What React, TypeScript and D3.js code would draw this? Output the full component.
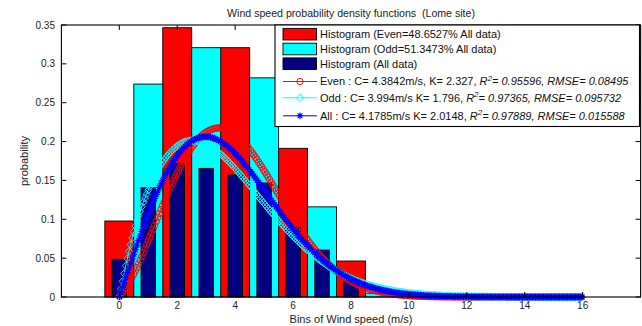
import { useEffect, useRef } from "react";
import * as d3 from "d3";

// Wind speeds (m/s) where the fitted Weibull curves were read
const speeds = [0, 0.5, 1, 1.5, 2, 2.5, 3, 3.5, 4, 4.5, 5, 5.5, 6, 6.5, 7, 7.5, 8, 8.5, 9, 9.5, 10, 10.5, 11, 11.5, 12, 12.5, 13, 13.5, 14, 14.5, 15, 15.5, 16];

const evenPdf = [0, 0.0295, 0.0723, 0.1178, 0.1595, 0.1921, 0.2122, 0.2178, 0.2096, 0.1899, 0.1626, 0.1317, 0.1011, 0.0735, 0.0507, 0.0331, 0.0205, 0.012, 0.0067, 0.0035, 0.0017, 0.0008, 0.0003, 0.0001, 0, 0, 0, 0, 0, 0, 0, 0, 0];
const oddPdf = [0, 0.084, 0.1375, 0.1736, 0.1943, 0.2013, 0.1969, 0.1839, 0.1652, 0.1433, 0.1203, 0.0982, 0.0779, 0.0602, 0.0454, 0.0334, 0.024, 0.0169, 0.0116, 0.0078, 0.0052, 0.0034, 0.0021, 0.0013, 0.0008, 0.0005, 0.0003, 0.0002, 0.0001, 0.0001, 0, 0, 0];
const allPdf = [0, 0.0551, 0.1068, 0.1502, 0.182, 0.2007, 0.2062, 0.2001, 0.1846, 0.1628, 0.1377, 0.1119, 0.0876, 0.0661, 0.0481, 0.0339, 0.023, 0.0151, 0.0096, 0.0059, 0.0035, 0.002, 0.0011, 0.0006, 0.0003, 0.0001, 0.0001, 0, 0, 0, 0, 0, 0];

// Histograms
const evenBins = [0, 2, 4, 6, 8];
const evenFreq = [0.0978, 0.3465, 0.3208, 0.1913, 0.0463];
const oddBins = [1, 3, 5, 7, 9];
const oddFreq = [0.274, 0.3208, 0.282, 0.116, 0.005];
const allBins = [0, 1, 2, 3, 4, 5, 6, 7, 8];
const allFreq = [0.0485, 0.1406, 0.172, 0.1655, 0.157, 0.1467, 0.09, 0.0604, 0.0197];

const xTicks = [0, 2, 4, 6, 8, 10, 12, 14, 16];
const yTicks = [0, 0.05, 0.1, 0.15, 0.2, 0.25, 0.3, 0.35];

const histLabels = [
  "Histogram (Even=48.6527% All data)",
  "Histogram (Odd=51.3473% All data)",
  "Histogram (All data)",
];
const fitLabels = [
  { head: "Even : C= 4.3842m/s, K= 2.327, ", r2: "= 0.95596, RMSE= 0.08495" },
  { head: "Odd : C= 3.994m/s K= 1.796, ", r2: "= 0.97365, RMSE= 0.095732" },
  { head: "All : C= 4.1785m/s K= 2.0148, ", r2: "= 0.97889, RMSE= 0.015588" },
];

const FONT = "'Liberation Sans', Arial, sans-serif";

const App = () => {
  const svgRef = useRef<SVGSVGElement>(null);

  useEffect(() => {
    if (!svgRef.current) return;
    const svg = d3.select(svgRef.current);
    svg.selectAll("*").remove();

    const left = 61.4, right = 640.6, top = 25, bottom = 297;
    const x = d3.scaleLinear().domain([-2, 18]).range([left, right]);
    const y = d3.scaleLinear().domain([0, 0.35]).range([bottom, top]);

    // barras
    const drawBars = (bins: number[], vals: number[], w: number, fill: string) => {
      svg.append("g")
        .selectAll("rect")
        .data(bins)
        .enter()
        .append("rect")
        .attr("x", (d) => x(d - w / 2))
        .attr("y", (d, i) => y(vals[i]))
        .attr("width", x(w) - x(0))
        .attr("height", (d, i) => y(0) - y(vals[i]))
        .attr("fill", fill)
        .attr("stroke", "#000")
        .attr("stroke-width", 0.9);
    };
    drawBars(evenBins, evenFreq, 1, "#ff0000");
    drawBars(oddBins, oddFreq, 1, "#00ffff");
    drawBars(allBins, allFreq, 0.5, "#000080");

    // marcadores
    const addMarker = (g: any, kind: string, color: string, px: number, py: number) => {
      if (kind === "circle") {
        g.append("circle").attr("cx", px).attr("cy", py).attr("r", 3.2)
          .attr("fill", "none").attr("stroke", color).attr("stroke-width", 0.9);
      } else if (kind === "diamond") {
        g.append("path").attr("transform", `translate(${px},${py})`)
          .attr("d", "M0,-3.8L3.4,0L0,3.8L-3.4,0Z")
          .attr("fill", "none").attr("stroke", color).attr("stroke-width", 0.9);
      } else {
        g.append("path").attr("transform", `translate(${px},${py})`)
          .attr("d", "M-3.4,0H3.4M0,-3.4V3.4M-2.4,-2.4L2.4,2.4M-2.4,2.4L2.4,-2.4")
          .attr("fill", "none").attr("stroke", color).attr("stroke-width", 1.1);
      }
    };

    const line = d3.line<number>()
      .x((d, i) => x(speeds[i]))
      .y((d) => y(d))
      .curve(d3.curveMonotoneX);

    const drawFit = (vals: number[], color: string, kind: string) => {
      const g = svg.append("g");
      const path = g.append("path")
        .datum(vals)
        .attr("d", line)
        .attr("fill", "none")
        .attr("stroke", color)
        .attr("stroke-width", 1);
      const node = path.node() as SVGPathElement;
      const L = node.getTotalLength();
      const pts: { x: number; y: number }[] = [];
      for (let l = 0; l <= L; l += 0.4) {
        const p = node.getPointAtLength(l);
        pts.push({ x: p.x, y: p.y });
      }
      let k = 0;
      const x0 = x(speeds[0]), x1 = x(speeds[speeds.length - 1]);
      for (let t = x0; t <= x1 + 0.01; t += 1.6) {
        while (k < pts.length - 1 && pts[k].x < t) k++;
        addMarker(g, kind, color, pts[k].x, pts[k].y);
      }
    };
    drawFit(evenPdf, "#ff0000", "circle");
    drawFit(oddPdf, "#00ffff", "diamond");
    drawFit(allPdf, "#0000ff", "star");

    // marco y ejes
    svg.append("rect")
      .attr("x", left).attr("y", top)
      .attr("width", right - left).attr("height", bottom - top)
      .attr("fill", "none").attr("stroke", "#000").attr("stroke-width", 1.1);

    const tickLen = 5;
    const ticks = svg.append("g").attr("stroke", "#000").attr("stroke-width", 1);
    xTicks.forEach((t) => {
      ticks.append("line").attr("x1", x(t)).attr("x2", x(t)).attr("y1", bottom).attr("y2", bottom - tickLen);
      ticks.append("line").attr("x1", x(t)).attr("x2", x(t)).attr("y1", top).attr("y2", top + tickLen);
    });
    yTicks.forEach((t) => {
      ticks.append("line").attr("x1", left).attr("x2", left + tickLen).attr("y1", y(t)).attr("y2", y(t));
      ticks.append("line").attr("x1", right).attr("x2", right - tickLen).attr("y1", y(t)).attr("y2", y(t));
    });

    svg.append("g")
      .selectAll("text")
      .data(xTicks)
      .enter()
      .append("text")
      .attr("x", (d) => x(d))
      .attr("y", 308.5)
      .attr("text-anchor", "middle")
      .style("font-family", FONT)
      .style("font-size", "10px")
      .attr("fill", "#222")
      .text((d) => String(d));

    svg.append("g")
      .selectAll("text")
      .data(yTicks)
      .enter()
      .append("text")
      .attr("x", 55)
      .attr("y", (d) => y(d) + 3.6)
      .attr("text-anchor", "end")
      .style("font-family", FONT)
      .style("font-size", "10px")
      .attr("fill", "#222")
      .text((d) => d3.format("~g")(+d.toFixed(2)));

    // titulos
    svg.append("text")
      .attr("x", (left + right) / 2)
      .attr("y", 17)
      .attr("text-anchor", "middle")
      .style("font-family", FONT)
      .style("font-size", "10.6px")
      .style("white-space", "pre")
      .attr("fill", "#222")
      .text("Wind speed probability density functions  (Lome site)");

    svg.append("text")
      .attr("x", (left + right) / 2)
      .attr("y", 322.5)
      .attr("text-anchor", "middle")
      .style("font-family", FONT)
      .style("font-size", "11px")
      .attr("fill", "#222")
      .text("Bins of Wind speed (m/s)");

    svg.append("text")
      .attr("transform", `translate(28,${(top + bottom) / 2}) rotate(-90)`)
      .attr("text-anchor", "middle")
      .style("font-family", FONT)
      .style("font-size", "11px")
      .attr("fill", "#222")
      .text("probability");

    // leyenda
    const lg = svg.append("g");
    lg.append("rect")
      .attr("x", 275).attr("y", 25)
      .attr("width", 364.5).attr("height", 101.5)
      .attr("fill", "#fff").attr("stroke", "#000").attr("stroke-width", 1.1);

    const histColors = ["#ff0000", "#00ffff", "#000080"];
    const histRows = [34.2, 49, 63.7];
    histLabels.forEach((lab, i) => {
      lg.append("rect")
        .attr("x", 283).attr("y", histRows[i] - 5.8)
        .attr("width", 33.5).attr("height", 11.6)
        .attr("fill", histColors[i]).attr("stroke", "#000").attr("stroke-width", 0.9);
      lg.append("text")
        .attr("x", 320).attr("y", histRows[i] + 3.9)
        .style("font-family", FONT).style("font-size", "11px")
        .attr("fill", "#111")
        .text(lab);
    });

    const fitColors = ["#ff0000", "#00ffff", "#0000ff"];
    const fitKinds = ["circle", "diamond", "star"];
    const fitRows = [81.5, 97.8, 115.8];
    fitLabels.forEach((lab, i) => {
      const ry = fitRows[i];
      lg.append("line")
        .attr("x1", 283).attr("x2", 317).attr("y1", ry).attr("y2", ry)
        .attr("stroke", fitColors[i]).attr("stroke-width", 1);
      addMarker(lg, fitKinds[i], fitColors[i], 300, ry);
      const t = lg.append("text")
        .attr("x", 320).attr("y", ry + 3.9)
        .style("font-family", FONT).style("font-size", "11px")
        .attr("fill", "#111");
      t.append("tspan").text(lab.head);
      t.append("tspan").style("font-style", "italic").text("R");
      t.append("tspan").style("font-style", "italic").style("font-size", "8px").attr("dy", -4.5).text("2");
      t.append("tspan").style("font-style", "italic").attr("dy", 4.5).text(lab.r2);
    });
  }, []);

  return (
    <svg
      ref={svgRef}
      width={642}
      height={326}
      style={{ position: "absolute", left: 0, top: 0, background: "#fff" }}
    />
  );
};

export default App;
